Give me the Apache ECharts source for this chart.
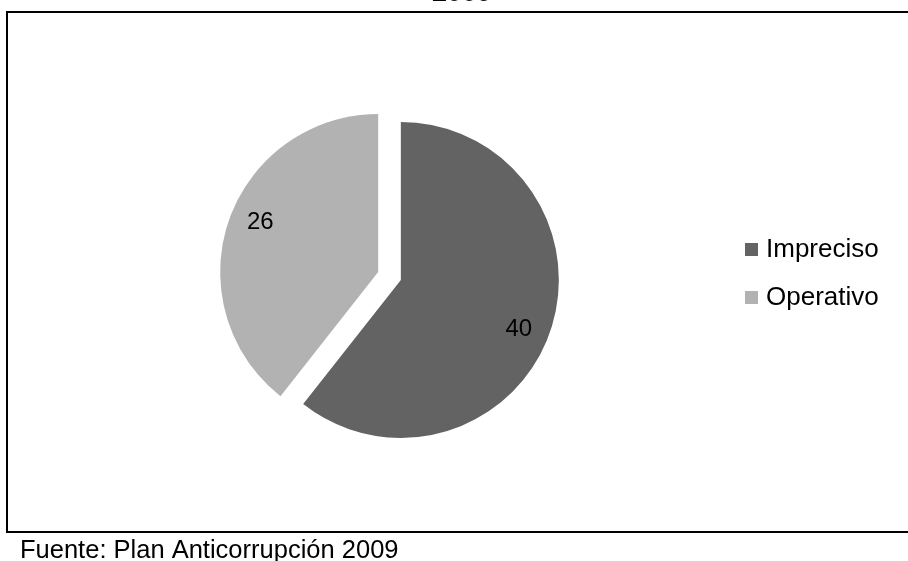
<!DOCTYPE html>
<html>
<head>
<meta charset="utf-8">
<script src="https://cdn.jsdelivr.net/npm/echarts@6/dist/echarts.min.js"></script>
<style>
html,body{margin:0;padding:0;background:#fff;}
#chart{width:908px;height:561px;}
</style>
</head>
<body>
<div id="chart"></div>
<script>
var titleText = '2009';
var sourceText = 'Fuente: Plan Anticorrupción 2009';
var categories = ['Impreciso', 'Operativo'];
var values = [40, 26];
var colors = ['#636363', '#b2b2b2'];

var FONT = '"Liberation Sans", Arial, sans-serif';
var chart = echarts.init(document.getElementById('chart'), null, {renderer: 'canvas'});

var mainData = categories.map(function (c, i) {
  return {name: c, value: values[i], selected: true, itemStyle: {color: colors[i]}};
});
var labelData = categories.map(function (c, i) {
  return {name: c, value: values[i], selected: true};
});

chart.setOption({
  animation: false,
  backgroundColor: '#ffffff',
  legend: {
    orient: 'vertical',
    left: 745,
    top: 236,
    padding: 0,
    itemWidth: 13,
    itemHeight: 13,
    itemGap: 21,
    icon: 'rect',
    selectedMode: false,
    data: categories,
    textStyle: {fontFamily: FONT, fontSize: 26, color: '#000', lineHeight: 27, padding: [0, 0, 0, 3]}
  },
  graphic: [
    {type: 'rect', shape: {x: 7, y: 12, width: 920, height: 520}, style: {fill: 'none', stroke: '#000', lineWidth: 2}, silent: true, z: 0},
    {type: 'text', x: 462, y: -6, style: {text: titleText, font: 'bold 27px ' + FONT, fill: '#000', textAlign: 'center', textVerticalAlign: 'middle'}},
    {type: 'text', x: 20, y: 551, style: {text: sourceText, font: '25.5px ' + FONT, fill: '#000', textAlign: 'left', textVerticalAlign: 'middle'}}
  ],
  series: [
    {
      type: 'pie',
      center: [389.5, 276],
      radius: [0, 158],
      startAngle: 90,
      clockwise: true,
      selectedMode: 'multiple',
      selectedOffset: 12,
      label: {show: false},
      labelLine: {show: false},
      emphasis: {disabled: true},
      silent: true,
      data: mainData
    },
    {
      type: 'pie',
      center: [389.5, 276],
      radius: [0, 250],
      startAngle: 86.5,
      clockwise: true,
      selectedMode: 'multiple',
      selectedOffset: 12,
      itemStyle: {color: 'rgba(0,0,0,0)'},
      label: {show: true, position: 'inside', formatter: '{c}', fontFamily: FONT, fontSize: 24, color: '#000'},
      labelLine: {show: false},
      emphasis: {disabled: true},
      silent: true,
      legendHoverLink: false,
      data: labelData
    }
  ]
});
</script>
</body>
</html>
